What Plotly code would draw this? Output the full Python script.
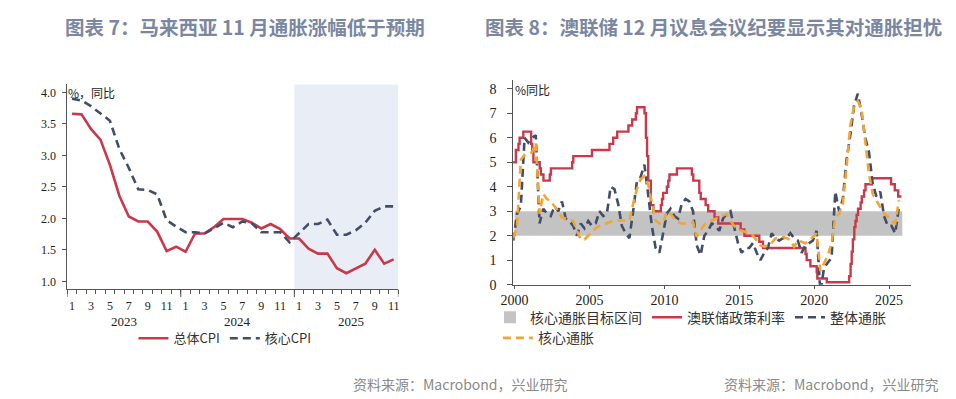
import plotly.graph_objects as go
import pandas as pd

W, H = 956, 399

# ---------------- Left chart data (Malaysia CPI, % y/y) ----------------
cpi_years = [2023, 2024, 2025]
cpi_months_per_year = [12, 12, 11]
month_tick_labels = ["1", "3", "5", "7", "9", "11"]
headline_cpi = [3.66, 3.65, 3.42, 3.25, 2.85, 2.36, 2.03, 1.95, 1.95, 1.79, 1.48, 1.55,
                1.47, 1.76, 1.76, 1.86, 1.99, 1.99, 1.99, 1.93, 1.84, 1.91, 1.83, 1.68,
                1.68, 1.52, 1.44, 1.44, 1.21, 1.13, 1.21, 1.28, 1.50, 1.28, 1.35]
core_cpi = [3.90, 3.87, 3.78, 3.66, 3.55, 3.10, 2.80, 2.46, 2.45, 2.38, 1.97, 1.87,
            1.78, 1.78, 1.76, 1.84, 1.93, 1.86, 1.95, 1.92, 1.78, 1.78, 1.78, 1.62,
            1.76, 1.91, 1.91, 1.98, 1.74, 1.74, 1.81, 1.93, 2.12, 2.19, 2.19]
shaded_year = 2025

# ---------------- Right chart data (Australia) ----------------
quarter_start, quarter_end = "1999-12-01", "2025-09-01"
headline_au = [1.8,
               2.9, 3.2, 6.0, 5.8,  6.0, 6.1, 2.5, 3.1,  2.9, 2.8, 3.2, 3.0,  3.4, 2.7, 2.6, 2.4,
               2.0, 2.5, 2.3, 2.6,  2.4, 2.5, 3.0, 2.8,  2.9, 4.0, 3.9, 3.3,  2.4, 2.1, 1.9, 3.0,
               4.2, 4.4, 4.9, 3.7,  2.4, 1.5, 1.3, 2.1,  2.9, 3.1, 2.8, 2.7,  3.3, 3.5, 3.4, 3.0,
               1.6, 1.2, 2.0, 2.2,  2.5, 2.4, 2.2, 2.7,  2.9, 3.0, 2.3, 1.7,  1.3, 1.5, 1.5, 1.7,
               1.3, 1.0, 1.3, 1.5,  2.1, 1.9, 1.8, 1.9,  1.9, 2.1, 1.9, 1.8,  1.3, 1.6, 1.7, 1.8,
               2.2, -0.3, 0.7, 0.9, 1.1, 3.8, 3.0, 3.5,  5.1, 6.1, 7.3, 7.8,  7.0, 6.0, 5.4, 4.1,
               3.6, 3.8, 2.8, 2.4,  2.4, 2.1, 3.2]
core_au = [1.9,
           2.4, 5.1, 5.3, 5.35,  5.4, 5.8, 2.9, 3.7,  3.5, 3.4, 3.2, 3.0,  2.75, 2.7, 2.65, 2.6,
           2.2, 1.85, 1.85, 2.0,  2.15, 2.3, 2.4, 2.45,  2.5, 2.55, 2.62, 2.62,  2.62, 2.62, 2.62, 3.3,
           3.9, 4.3, 4.43, 4.1,  3.3, 2.62, 2.5, 2.5,  3.0, 2.89, 2.7, 2.55,  2.5, 2.5, 2.5, 2.56,
           1.95, 2.2, 2.45, 2.55,  2.62, 2.7, 2.76, 2.85,  2.89, 2.62, 2.4, 2.25,  2.2, 2.15, 2.1, 2.0,
           1.82, 1.6, 1.55, 1.6,  1.7, 1.89, 1.92, 1.95,  1.9, 1.82, 1.55, 1.8,  1.75, 1.69, 1.8, 1.95,
           2.09, 0.55, 0.9, 1.2,  1.7, 2.76, 2.89, 3.3,  4.8, 6.5, 7.3, 7.5,  7.2, 5.9, 4.5, 3.7,
           3.45, 3.2, 2.9, 2.8,  2.6, 2.5, 3.45]
rba_dates = ["1999-11-03", "2000-02-02", "2000-04-05", "2000-05-03", "2000-08-02", "2001-02-07",
             "2001-03-07", "2001-04-04", "2001-09-05", "2001-10-03", "2001-12-05", "2002-05-08",
             "2002-06-05", "2003-11-05", "2003-12-03", "2005-03-02", "2006-05-03", "2006-08-02",
             "2006-11-08", "2007-08-08", "2007-11-07", "2008-02-06", "2008-03-05", "2008-09-03",
             "2008-10-08", "2008-11-05", "2008-12-03", "2009-02-04", "2009-04-08", "2009-10-07",
             "2009-11-04", "2009-12-02", "2010-03-03", "2010-04-07", "2010-05-05", "2010-11-03",
             "2011-11-02", "2011-12-07", "2012-05-02", "2012-06-06", "2012-10-03", "2012-12-05",
             "2013-05-08", "2013-08-07", "2015-02-04", "2015-05-06", "2016-05-04", "2016-08-03",
             "2019-06-05", "2019-07-03", "2019-10-02", "2020-03-04", "2020-03-19", "2020-11-04",
             "2022-05-04", "2022-06-08", "2022-07-06", "2022-08-03", "2022-09-07", "2022-10-05",
             "2022-11-02", "2022-12-07", "2023-02-08", "2023-03-08", "2023-05-03", "2023-06-07",
             "2023-11-08", "2025-02-19", "2025-05-21", "2025-08-13", "2025-10-31"]
rba_rate = [5.0, 5.5, 5.75, 6.0, 6.25, 5.75, 5.5, 5.0, 4.75, 4.5, 4.25, 4.5, 4.75, 5.0, 5.25,
            5.5, 5.75, 6.0, 6.25, 6.5, 6.75, 7.0, 7.25, 7.0, 6.0, 5.25, 4.25, 3.25, 3.0, 3.25,
            3.5, 3.75, 4.0, 4.25, 4.5, 4.75, 4.5, 4.25, 3.75, 3.5, 3.25, 3.0, 2.75, 2.5, 2.25,
            2.0, 1.75, 1.5, 1.25, 1.0, 0.75, 0.5, 0.25, 0.1, 0.35, 0.85, 1.35, 1.85, 2.35, 2.6,
            2.85, 3.1, 3.35, 3.6, 3.85, 4.1, 4.35, 4.1, 3.85, 3.6, 3.6]
target_band = [2.0, 3.0]
target_band_span = ["2000-01-01", "2025-11-20"]
year_ticks_au = [2000, 2005, 2010, 2015, 2020, 2025]

# ---------------- derived ----------------
n_cpi = len(headline_cpi)
x_idx = list(range(n_cpi))
month_numbers = [m for n in cpi_months_per_year for m in range(1, n + 1)]
month_label_idx = [i for i, m in enumerate(month_numbers) if str(m) in month_tick_labels]
month_label_txt = [str(month_numbers[i]) for i in month_label_idx]
year_start_idx = [sum(cpi_months_per_year[:k]) for k in range(len(cpi_years))]
year_bounds = [s - 0.5 for s in year_start_idx] + [n_cpi - 0.5]
year_centers = [s + 5.5 for s in year_start_idx]
shade_x0 = year_start_idx[cpi_years.index(shaded_year)] - 0.5
q_dates = pd.date_range(quarter_start, quarter_end, freq="3MS")

RED = "#c83a4b"
NAVY = "#424d68"
ORANGE = "#f2a534"
BAND = "#c3c3c3"
AXIS = "#555555"
SERIF = "Liberation Serif, Times New Roman, serif"
CJK = "Noto Sans CJK SC, sans-serif"


def px_x(p):
    return p / W


def px_y(p):
    return 1 - p / H


fig = go.Figure()

# Left chart traces
fig.add_trace(go.Scatter(x=x_idx, y=headline_cpi, mode="lines", name="总体CPI",
                         line=dict(color=RED, width=2.6), xaxis="x", yaxis="y", legend="legend"))
fig.add_trace(go.Scatter(x=x_idx, y=core_cpi, mode="lines", name="核心CPI",
                         line=dict(color=NAVY, width=2.6, dash="8px,5px"),
                         xaxis="x", yaxis="y", legend="legend"))

# Right chart traces
bx = [target_band_span[0], target_band_span[1], target_band_span[1], target_band_span[0], target_band_span[0]]
by = [target_band[0], target_band[0], target_band[1], target_band[1], target_band[0]]
fig.add_trace(go.Scatter(x=bx, y=by, mode="lines", fill="toself", fillcolor=BAND,
                         line=dict(width=0, color=BAND), name="核心通胀目标区间",
                         xaxis="x2", yaxis="y2", showlegend=False))
# legend entry for the band (square swatch)
fig.add_trace(go.Scatter(x=[None], y=[None], mode="markers", name="核心通胀目标区间",
                         marker=dict(symbol="square", size=12, color=BAND),
                         xaxis="x2", yaxis="y2", legend="legend2"))
fig.add_trace(go.Scatter(x=pd.to_datetime(rba_dates), y=rba_rate, mode="lines", name="澳联储政策利率",
                         line=dict(color=RED, width=2.4, shape="hv"), xaxis="x2", yaxis="y2",
                         legend="legend2"))
fig.add_trace(go.Scatter(x=q_dates, y=headline_au, mode="lines", name="整体通胀",
                         line=dict(color=NAVY, width=2.6, dash="8px,5px"), xaxis="x2", yaxis="y2",
                         legend="legend2"))
fig.add_trace(go.Scatter(x=q_dates, y=core_au, mode="lines", name="核心通胀",
                         line=dict(color=ORANGE, width=2.6, dash="8px,5px"), xaxis="x2", yaxis="y2",
                         legend="legend3"))

L_dom_x = [px_x(47), px_x(383)]
L_dom_y = [px_y(287), px_y(78)]
R_dom_x = [px_x(499.5), px_x(903.5)]
R_dom_y = [px_y(282.3), px_y(73)]

tickfont_l = dict(family=SERIF, size=12, color="#222")
tickfont_r = dict(family=SERIF, size=14, color="#222")

fig.update_layout(
    width=W, height=H, margin=dict(l=0, r=0, t=0, b=0),
    paper_bgcolor="white", plot_bgcolor="rgba(0,0,0,0)",
    xaxis=dict(domain=L_dom_x, range=[-0.5, n_cpi - 0.5], anchor="y",
               tickmode="array", tickvals=month_label_idx, ticktext=month_label_txt,
               tickfont=tickfont_l, ticks="outside", ticklen=5, tickcolor="rgba(0,0,0,0)",
               minor=dict(tickmode="array", tickvals=[i - 0.5 for i in range(n_cpi + 1)],
                          ticks="outside", ticklen=4, tickcolor=AXIS, tickwidth=1),
               showline=True, linecolor=AXIS, linewidth=1, showgrid=False, zeroline=False),
    yaxis=dict(domain=L_dom_y, range=[0.875, 4.125], anchor="x",
               tickmode="array", tickvals=[1.0, 1.5, 2.0, 2.5, 3.0, 3.5, 4.0], tickformat=".1f",
               ticks="outside", ticklen=4, tickcolor=AXIS, ticklabelstandoff=4,
               tickfont=tickfont_l, showline=True, linecolor=AXIS, linewidth=1,
               showgrid=False, zeroline=False),
    xaxis2=dict(domain=R_dom_x, type="date", range=["1999-11-28", "2026-06-27"], anchor="y2",
                tickmode="array", tickvals=[f"{y}-01-01" for y in year_ticks_au],
                ticktext=[str(y) for y in year_ticks_au], tickfont=tickfont_r,
                ticks="outside", ticklen=3, tickcolor=AXIS,
                showline=True, linecolor=AXIS, linewidth=1, showgrid=False, zeroline=False),
    yaxis2=dict(domain=R_dom_y, range=[0, 8.38], anchor="x2", tickmode="array",
                tickvals=list(range(0, 9)), tickfont=tickfont_r,
                ticks="outside", ticklen=5, tickcolor=AXIS, ticklabelstandoff=8,
                showline=True, linecolor=AXIS, linewidth=1, showgrid=False, zeroline=False),
    legend=dict(orientation="h", x=px_x(207), xanchor="center", y=px_y(337), yanchor="middle",
                font=dict(family=CJK, size=13, color="#333"), bgcolor="rgba(0,0,0,0)",
                itemwidth=30, traceorder="normal"),
    legend2=dict(orientation="h", x=px_x(476), xanchor="left", y=px_y(316), yanchor="middle",
                 font=dict(family=CJK, size=14, color="#333"), bgcolor="rgba(0,0,0,0)",
                 itemwidth=30, traceorder="normal"),
    legend3=dict(orientation="h", x=px_x(484), xanchor="left", y=px_y(337), yanchor="middle",
                 font=dict(family=CJK, size=14, color="#333"), bgcolor="rgba(0,0,0,0)",
                 itemwidth=30, traceorder="normal"),
    showlegend=True,
)

# shaded 2025 region on left chart
fig.add_shape(type="rect", xref="x", yref="y domain", x0=shade_x0, x1=n_cpi - 0.5, y0=0, y1=1,
              fillcolor="#e8edf6", line=dict(width=0), layer="below")
# longer ticks at year boundaries on the left chart
for b in year_bounds:
    fig.add_shape(type="line", xref="x", yref="paper", x0=b, x1=b, y0=px_y(287), y1=px_y(295),
                  line=dict(color=AXIS, width=1))

annotations = []
for yr, xc in zip(cpi_years, year_centers):
    annotations.append(dict(x=xc, y=px_y(320), xref="x", yref="paper", text=str(yr),
                            showarrow=False, font=dict(family=SERIF, size=13, color="#222"),
                            xanchor="center", yanchor="middle"))
annotations += [
    dict(x=px_x(43), y=px_y(19), xref="paper", yref="paper", text="<b>图表 7：马来西亚 11 月通胀涨幅低于预期</b>",
         showarrow=False, xanchor="left", yanchor="middle",
         font=dict(family=CJK, size=19.5, color="#7b87a1")),
    dict(x=px_x(469), y=px_y(19), xref="paper", yref="paper", text="<b>图表 8：澳联储 12 月议息会议纪要显示其对通胀担忧</b>",
         showarrow=False, xanchor="left", yanchor="middle",
         font=dict(family=CJK, size=19.5, color="#7b87a1")),
    dict(x=px_x(46), y=px_y(86), xref="paper", yref="paper", text="%，同比",
         showarrow=False, xanchor="left", yanchor="middle",
         font=dict(family=CJK, size=12, color="#222")),
    dict(x=px_x(499), y=px_y(83), xref="paper", yref="paper", text="%同比",
         showarrow=False, xanchor="left", yanchor="middle",
         font=dict(family=CJK, size=12, color="#222")),
    dict(x=px_x(557), y=px_y(384), xref="paper", yref="paper", text="资料来源：Macrobond，兴业研究",
         showarrow=False, xanchor="right", yanchor="middle",
         font=dict(family=CJK, size=14, color="#8a8a8a")),
    dict(x=px_x(934), y=px_y(384), xref="paper", yref="paper", text="资料来源：Macrobond，兴业研究",
         showarrow=False, xanchor="right", yanchor="middle",
         font=dict(family=CJK, size=14, color="#8a8a8a")),
]
fig.update_layout(annotations=annotations)

fig.write_html("out.html")
